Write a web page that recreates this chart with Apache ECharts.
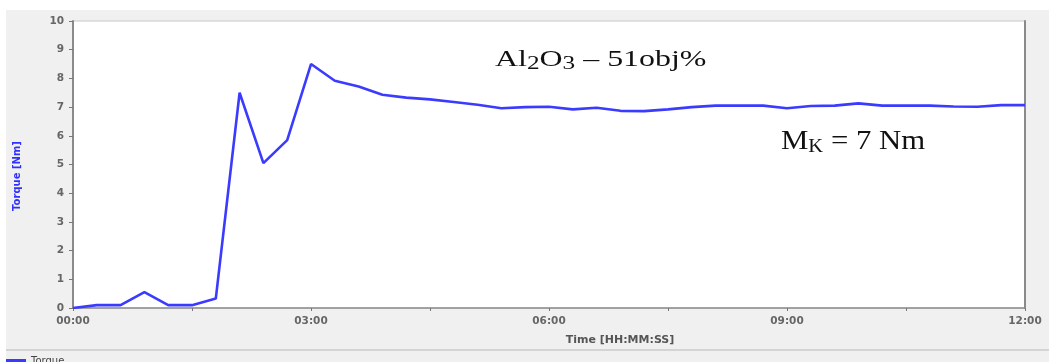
<!DOCTYPE html>
<html>
<head>
<meta charset="utf-8">
<script src="https://cdn.jsdelivr.net/npm/echarts@6/dist/echarts.min.js"></script>
<style>
  html, body { margin: 0; padding: 0; background: #ffffff; }
  #chart { width: 1049px; height: 362px; }
</style>
</head>
<body>
<div id="chart"></div>
<script>
// Torque log, one sample every 18 s (time in seconds from start)
const timeSec = [0, 18, 36, 54, 72, 90, 108, 126, 144, 162, 180, 198, 216, 234, 252, 270, 288, 306, 324, 342,
                 360, 378, 396, 414, 432, 450, 468, 486, 504, 522, 540, 558, 576, 594, 612, 630, 648, 666, 684, 702, 720];
const torqueNm = [0, 0.1, 0.1, 0.55, 0.1, 0.1, 0.33, 7.5, 5.05, 5.85, 8.5, 7.92, 7.72, 7.43, 7.33, 7.27, 7.18, 7.08, 6.96, 7.0,
                  7.01, 6.92, 6.98, 6.87, 6.86, 6.92, 7.0, 7.05, 7.05, 7.05, 6.96, 7.04, 7.05, 7.13, 7.05, 7.05, 7.05, 7.02, 7.01, 7.07, 7.07];
// Axis ranges and labels
const yTicks = [0, 1, 2, 3, 4, 5, 6, 7, 8, 9, 10];
const xMaxSec = 720;
const xLabelStepSec = 180;
const xTickStepSec = 90;
const seriesName = 'Torque';
const xAxisTitle = 'Time [HH:MM:SS]';
const yAxisTitle = 'Torque [Nm]';

function mmss(sec) {
  const m = Math.floor(sec / 60), s = Math.round(sec % 60);
  return String(m).padStart(2, '0') + ':' + String(s).padStart(2, '0');
}

const chart = echarts.init(document.getElementById('chart'), null, { renderer: 'canvas' });
const tickFont = { fontFamily: 'DejaVu Sans', fontWeight: 'bold', fontSize: 10.5, color: '#666666' };

chart.setOption({
  backgroundColor: '#f0f0f0',
  animation: false,
  grid: {
    left: 73, right: 24, top: 21, bottom: 54,
    show: true, backgroundColor: '#ffffff', borderColor: '#c8c8c8', borderWidth: 1
  },
  xAxis: {
    type: 'value', min: 0, max: xMaxSec, interval: xTickStepSec,
    axisLine: { lineStyle: { color: '#8c8c8c', width: 1.5 } },
    axisTick: { show: true, length: 3, lineStyle: { color: '#777777' } },
    splitLine: { show: false },
    axisLabel: Object.assign({
      margin: 8,
      formatter: v => (v % xLabelStepSec === 0 ? mmss(v) : '')
    }, tickFont)
  },
  yAxis: [{
    type: 'value', min: yTicks[0], max: yTicks[yTicks.length - 1], interval: 1,
    axisLine: { show: true, lineStyle: { color: '#8a8a8a', width: 2 } },
    axisTick: { show: true, length: 4, lineStyle: { color: '#777777' } },
    splitLine: { show: false },
    axisLabel: Object.assign({ margin: 9 }, tickFont)
  }, {
    type: 'value', min: yTicks[0], max: yTicks[yTicks.length - 1], interval: 1,
    position: 'right',
    axisLine: { show: true, lineStyle: { color: '#8a8a8a', width: 2 } },
    axisTick: { show: false }, axisLabel: { show: false }, splitLine: { show: false }
  }],
  series: [{
    name: seriesName,
    type: 'line',
    showSymbol: false,
    data: timeSec.map((t, i) => [t, torqueNm[i]]),
    lineStyle: { color: '#3b3bff', width: 2.6 },
    itemStyle: { color: '#3b3bff' }
  }],
  graphic: [
    // white margins around the grey panel
    { type: 'rect', left: 0, top: 0, shape: { width: 1049, height: 10 }, style: { fill: '#ffffff' }, silent: true },
    { type: 'rect', left: 0, top: 0, shape: { width: 6, height: 362 }, style: { fill: '#ffffff' }, silent: true },
    // separator above the legend strip
    { type: 'rect', left: 6, top: 349, shape: { width: 1043, height: 2 }, style: { fill: '#d4d4d4' }, silent: true },
    // axis titles
    { type: 'text', x: 620, y: 340, style: { text: xAxisTitle, fontFamily: 'DejaVu Sans', fontWeight: 'bold', fontSize: 11,
      fill: '#555555', align: 'center', verticalAlign: 'middle' } },
    { type: 'text', x: 17, y: 176, rotation: Math.PI / 2, style: { text: yAxisTitle, fontFamily: 'DejaVu Sans', fontWeight: 'bold',
      fontSize: 10, fill: '#3030ff', align: 'center', verticalAlign: 'middle' } },
    // legend entry
    { type: 'rect', left: 6, top: 359, shape: { width: 20, height: 3 }, style: { fill: '#3b3bff' }, silent: true },
    { type: 'text', x: 31, y: 356, style: { text: seriesName, fontFamily: 'DejaVu Sans', fontSize: 10, fill: '#444444',
      align: 'left', verticalAlign: 'top' } },
    // annotations
    { type: 'text', x: 495, y: 60, scaleX: 1.33, style: {
      text: '{n|Al}{s|2}{n|O}{s|3}{n| – 51obj%}',
      align: 'left', verticalAlign: 'middle',
      rich: {
        n: { fontFamily: 'Liberation Serif', fontSize: 24, fill: '#111111', lineHeight: 30, verticalAlign: 'middle' },
        s: { fontFamily: 'Liberation Serif', fontSize: 19, fill: '#111111', lineHeight: 30, padding: [9, 0, 0, 0], verticalAlign: 'middle' }
      } } },
    { type: 'text', x: 781, y: 142, scaleX: 1.14, style: {
      text: '{n|M}{s|K}{n| = 7 Nm}',
      align: 'left', verticalAlign: 'middle',
      rich: {
        n: { fontFamily: 'Liberation Serif', fontSize: 27, fill: '#111111', lineHeight: 30, verticalAlign: 'middle' },
        s: { fontFamily: 'Liberation Serif', fontSize: 18, fill: '#111111', lineHeight: 30, padding: [10, 0, 0, 0], verticalAlign: 'middle' }
      } } }
  ]
});
</script>
</body>
</html>
